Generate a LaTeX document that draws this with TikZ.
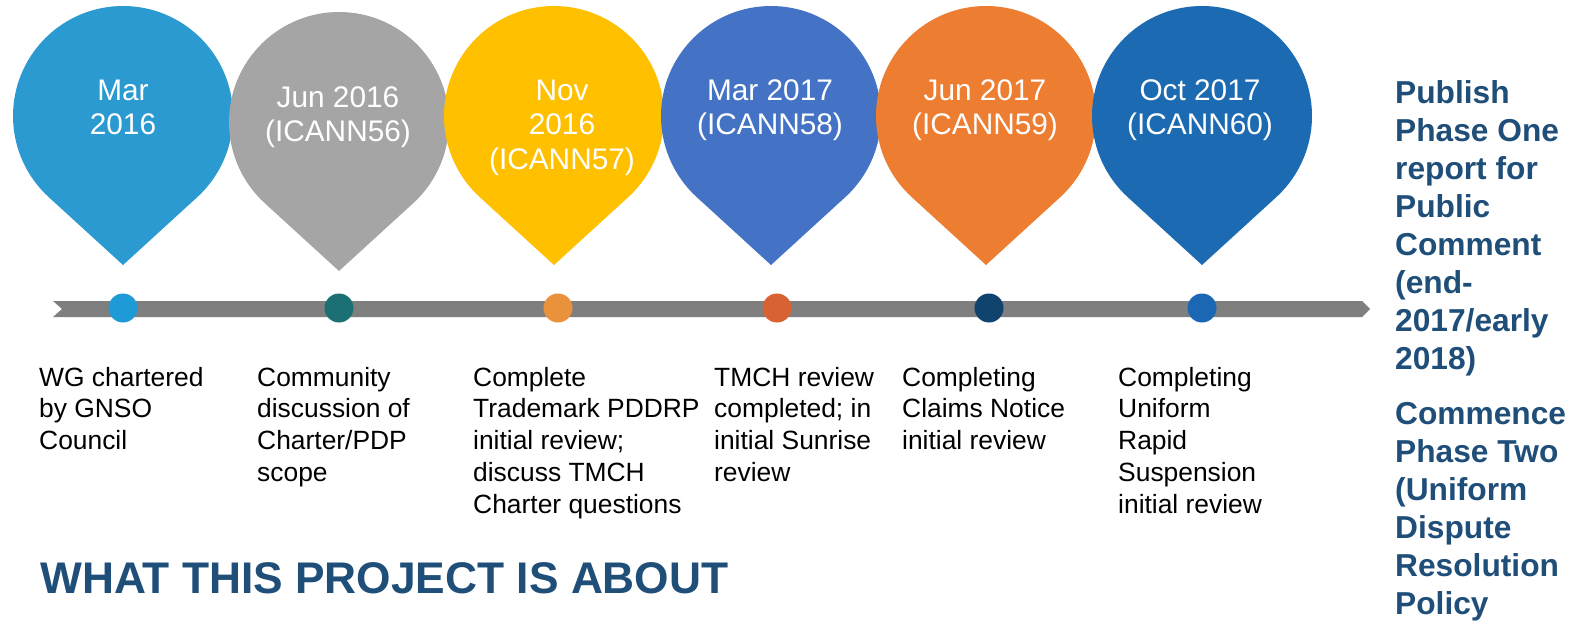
\documentclass[tikz,border=0pt]{standalone}
\usepackage{fontspec}
\setmainfont{Liberation Sans}
\definecolor{pinA}{HTML}{2A9AD0}
\definecolor{pinB}{HTML}{A5A5A5}
\definecolor{pinC}{HTML}{FFC000}
\definecolor{pinD}{HTML}{4472C4}
\definecolor{pinE}{HTML}{ED7D31}
\definecolor{pinF}{HTML}{1C6AB1}
\definecolor{dotA}{HTML}{1E9AD6}
\definecolor{dotB}{HTML}{1C7074}
\definecolor{dotC}{HTML}{E9913B}
\definecolor{dotD}{HTML}{D96234}
\definecolor{dotE}{HTML}{0F436E}
\definecolor{dotF}{HTML}{1B67B4}
\definecolor{bargray}{HTML}{7F7F7F}
\definecolor{navytext}{HTML}{1F4E79}
\newcommand\droppin[3]{\fill[#3] (#1,#2) ++(132.4:110) arc[start angle=132.4,end angle=407.6,radius=110] -- (#1,#2+149) -- cycle;}
\begin{document}
\begin{tikzpicture}[x=1pt,y=-1pt,
  pintext/.style={text=white,align=center,anchor=base,inner sep=0pt,font=\fontsize{29.8}{34.5}\selectfont},
  desc/.style={text=black,align=left,anchor=base west,inner sep=0pt,font=\fontsize{26.4}{31.8}\selectfont},
  side/.style={text=navytext,align=left,anchor=base west,inner sep=0pt,font=\bfseries\fontsize{31.7}{38}\selectfont},
  milestone/.style={circle,inner sep=0pt,minimum size=29pt}]
\useasboundingbox[fill=white] (0,0) rectangle (1577,626);
% pins
\droppin{123}{116}{pinA}
\droppin{339}{122}{pinB}
\droppin{554}{116}{pinC}
\droppin{771}{116}{pinD}
\droppin{986}{116}{pinE}
\droppin{1202}{116}{pinF}
% (base anchor = baseline of the last line)
\node[pintext] (p1) at (123,134.5) {Mar\\2016};
\node[pintext] (p2) at (338,141.5) {Jun 2016\\(ICANN56)};
\node[pintext] (p3) at (562,169) {Nov\\2016\\(ICANN57)};
\node[pintext] (p4) at (770,134.5) {Mar 2017\\(ICANN58)};
\node[pintext] (p5) at (985,134.5) {Jun 2017\\(ICANN59)};
\node[pintext] (p6) at (1200,134.5) {Oct 2017\\(ICANN60)};
% bar
\fill[bargray] (53,301) -- (1362,301) -- (1370,309) -- (1362,317) -- (53,317) -- (62,309) -- cycle;
\node[milestone,fill=dotA] (d1) at (123,308) {};
\node[milestone,fill=dotB] (d2) at (339,308) {};
\node[milestone,fill=dotC] (d3) at (558,308) {};
\node[milestone,fill=dotD] (d4) at (777,308) {};
\node[milestone,fill=dotE] (d5) at (989,308) {};
\node[milestone,fill=dotF] (d6) at (1202,308) {};
% descriptions
\node[desc] (t1) at (39,449.6) {WG chartered\\by GNSO\\Council};
\node[desc] (t2) at (257,481.4) {Community\\discussion of\\Charter/PDP\\scope};
\node[desc] (t3) at (473,513.2) {Complete\\Trademark PDDRP\\initial review;\\discuss TMCH\\Charter questions};
\node[desc] (t4) at (714,481.4) {TMCH review\\completed; in\\initial Sunrise\\review};
\node[desc] (t5) at (902,449.6) {Completing\\Claims Notice\\initial review};
\node[desc] (t6) at (1118,513.2) {Completing\\Uniform\\Rapid\\Suspension\\initial review};
% side text
\node[side] (s1) at (1395,369) {Publish\\Phase One\\report for\\Public\\Comment\\(end-\\2017/early\\2018)};
\node[side] (s2) at (1395,614) {Commence\\Phase Two\\(Uniform\\Dispute\\Resolution\\Policy};
% title
\node[text=navytext,anchor=base west,inner sep=0pt,font=\bfseries\fontsize{44.3}{52}\selectfont] (title) at (40,593) {WHAT THIS PROJECT IS ABOUT};
\end{tikzpicture}
\end{document}
